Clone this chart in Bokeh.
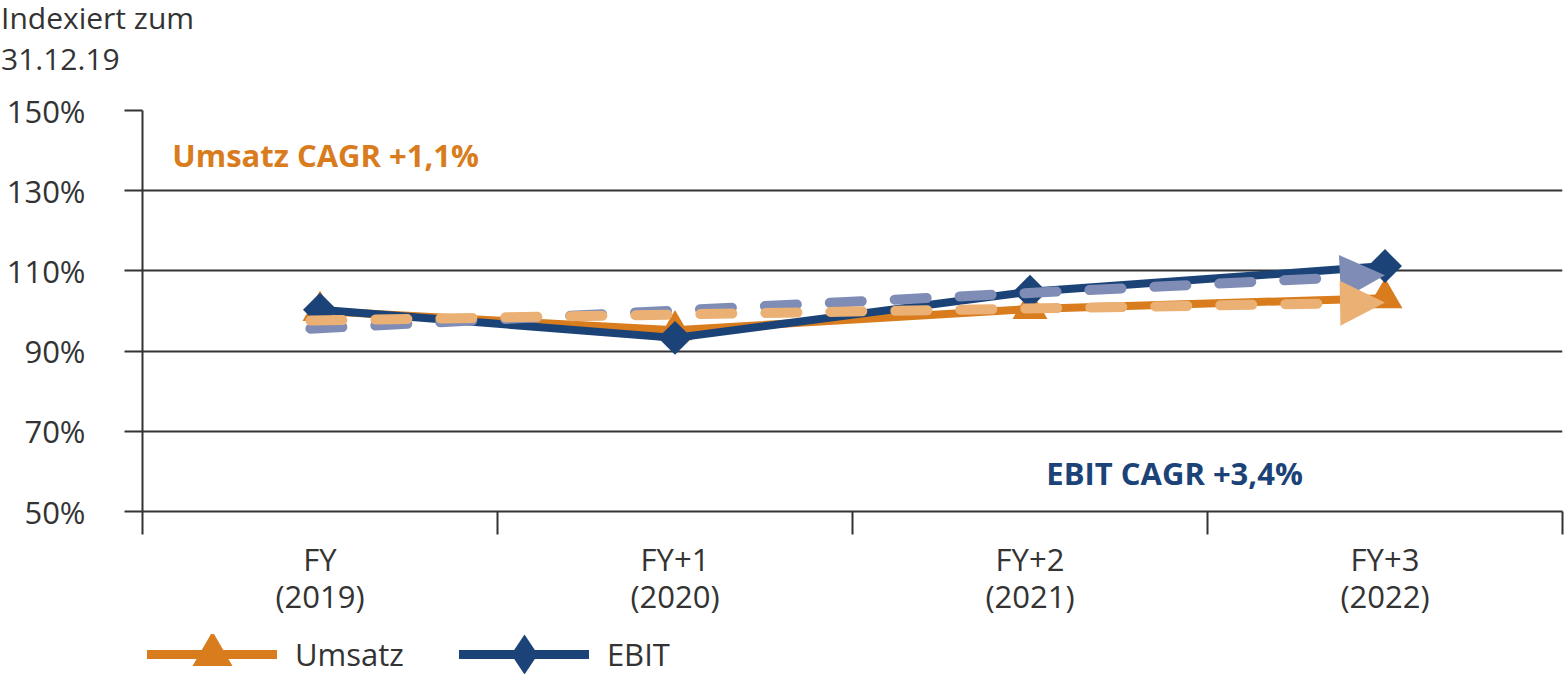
from bokeh.plotting import figure
from bokeh.layouts import column
from bokeh.models import (Range1d, FixedTicker, Label, Legend, LegendItem, Arrow,
                          NormalHead, ColumnDataSource, Div)
from bokeh.embed import file_html
from bokeh.resources import INLINE

# ---------------- data ----------------
categories = ["FY\n(2019)", "FY+1\n(2020)", "FY+2\n(2021)", "FY+3\n(2022)"]
umsatz = [100.0, 95.2, 100.5, 103.2]
ebit = [100.3, 93.3, 104.8, 111.2]
umsatz_trend = [97.6, 102.1]   # dashed trend start / end
ebit_trend = [95.6, 108.9]
y_ticks = [50, 70, 90, 110, 130, 150]
y_tick_labels = ["50%", "70%", "90%", "110%", "130%", "150%"]
title_lines = ["Indexiert zum", "31.12.19"]
umsatz_cagr = "Umsatz CAGR +1,1%"
ebit_cagr = "EBIT CAGR +3,4%"
series_names = ["Umsatz", "EBIT"]

# ---------------- style ----------------
ORANGE = "#D87C1E"
NAVY = "#1B4377"
LIGHT_BLUE = "#7F8DB6"
LIGHT_ORANGE = "#EBB174"
GRAY = "#333333"
FONT = "Open Sans"
FS = "31px"
W = 1564

n = len(categories)
xs = [i + 0.5 for i in range(n)]
src = ColumnDataSource(data=dict(x=xs, umsatz=umsatz, ebit=ebit))

# ---------------- title (two lines, top-left) ----------------
title_html = ('<div style="position:relative; top:-3px; left:1px; font-family:\'Open Sans\'; '
              'font-size:30px; line-height:41px; color:%s;">%s</div>'
              % (GRAY, "<br>".join(title_lines)))
title = Div(text=title_html, width=W, height=88, margin=(0, 0, 0, 0),
            styles={"padding": "0px", "margin": "0px"})

# ---------------- main chart ----------------
p = figure(width=W, height=546,
           x_range=Range1d(0, n), y_range=Range1d(y_ticks[0], y_ticks[-1]),
           output_backend="svg", toolbar_location=None,
           min_border_left=142, min_border_right=2,
           min_border_top=22, min_border_bottom=123)
p.outline_line_color = None

# grid
p.xgrid.grid_line_color = None
p.ygrid.ticker = FixedTicker(ticks=y_ticks)
p.ygrid.grid_line_color = GRAY
p.ygrid.grid_line_width = 2

# y axis
ya = p.yaxis[0]
ya.ticker = FixedTicker(ticks=y_ticks, minor_ticks=[])
ya.major_label_overrides = dict(zip(y_ticks, y_tick_labels))
ya.major_tick_out = 18
ya.major_tick_in = 0
ya.major_tick_line_color = GRAY
ya.major_tick_line_width = 2
ya.minor_tick_line_color = None
ya.axis_line_color = GRAY
ya.axis_line_width = 2
ya.major_label_standoff = 39
ya.major_label_text_font = FONT
ya.major_label_text_font_size = FS
ya.major_label_text_color = GRAY

# x axis
xa = p.xaxis[0]
xa.ticker = FixedTicker(ticks=xs, minor_ticks=list(range(n + 1)))
xa.major_label_overrides = dict(zip(xs, categories))
xa.major_tick_out = 0
xa.major_tick_in = 0
xa.minor_tick_out = 23
xa.minor_tick_in = 0
xa.minor_tick_line_color = GRAY
xa.minor_tick_line_width = 2
xa.axis_line_color = GRAY
xa.axis_line_width = 2
xa.major_label_standoff = 3
xa.major_label_text_font = FONT
xa.major_label_text_font_size = FS
xa.major_label_text_color = GRAY
xa.major_label_text_line_height = 0.9

# series
p.line("x", "umsatz", source=src, line_color=ORANGE, line_width=8, line_cap="round")
p.scatter("x", "umsatz", source=src, marker="triangle", size=35,
          fill_color=ORANGE, line_color=None)
p.line("x", "ebit", source=src, line_color=NAVY, line_width=8, line_cap="round")
p.scatter("x", "ebit", source=src, marker="square", angle=0.785398, size=24,
          fill_color=NAVY, line_color=None)

# dashed trend arrows
start_x = xs[0] - 0.027
end_x = xs[-1]
for trend, col in ((ebit_trend, LIGHT_BLUE), (umsatz_trend, LIGHT_ORANGE)):
    p.add_layout(Arrow(x_start=start_x, y_start=trend[0], x_end=end_x, y_end=trend[1],
                       line_color=col, line_width=10, line_dash="32 33", line_cap="round",
                       end=NormalHead(size=45, fill_color=col, line_color=None)))

# CAGR annotations
p.add_layout(Label(x=0.084, y=139.0, text=umsatz_cagr, text_font=FONT, text_font_size=FS,
                   text_font_style="bold", text_color=ORANGE, text_baseline="middle"))
p.add_layout(Label(x=2.546, y=59.7, text=ebit_cagr, text_font=FONT, text_font_size=FS,
                   text_font_style="bold", text_color=NAVY, text_baseline="middle"))

# ---------------- legend strip ----------------
# the strip uses the same series, but its y range lies far below the data,
# so only the legend glyphs are visible
leg = figure(width=W, height=40, x_range=Range1d(0, n), y_range=Range1d(0, 1),
             output_backend="svg", toolbar_location=None,
             x_axis_location=None, y_axis_location=None,
             min_border_left=142, min_border_right=2, min_border_top=0, min_border_bottom=0)
leg.grid.visible = False
leg.outline_line_color = None

u_l = leg.line("x", "umsatz", source=src, line_color=ORANGE, line_width=9, line_cap="round")
u_m = leg.scatter("x", "umsatz", source=src, marker="triangle",
                  fill_color=ORANGE, line_color=None)
e_l = leg.line("x", "ebit", source=src, line_color=NAVY, line_width=9, line_cap="round")
e_m = leg.scatter("x", "ebit", source=src, marker="diamond",
                  fill_color=NAVY, line_color=None)

legend = Legend(items=[LegendItem(label=series_names[0], renderers=[u_l, u_m]),
                       LegendItem(label=series_names[1], renderers=[e_l, e_m])],
                orientation="horizontal", location="left",
                glyph_width=130, glyph_height=100, label_standoff=18, spacing=55,
                padding=16, margin=5, border_line_color=None, background_fill_alpha=0,
                label_text_font=FONT, label_text_font_size=FS, label_text_color=GRAY)
leg.add_layout(legend)

layout = column(title, p, leg, spacing=0)
open("out.html", "w").write(file_html(layout, INLINE))
